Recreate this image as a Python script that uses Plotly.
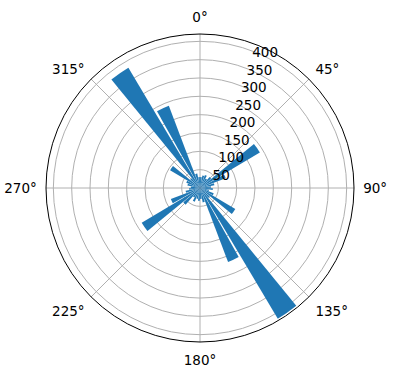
import plotly.graph_objects as go

# bin centres (degrees, clockwise from north) and bar heights
directions = [5, 15, 25, 35, 45, 55, 65, 75, 85, 95, 105, 115,
              125, 135, 145, 155, 165, 175, 185, 195, 205, 215, 225, 235,
              245, 255, 265, 275, 285, 295, 305, 315, 325, 335, 345, 355]
counts = [30, 35, 38, 30, 40, 190, 75, 40, 30, 35, 25, 40,
          112, 35, 415, 216, 40, 30, 35, 30, 40, 30, 60, 185,
          85, 40, 30, 25, 35, 40, 95, 35, 382, 240, 40, 30]

angle_ticks = [0, 45, 90, 135, 180, 225, 270, 315]
radial_ticks = [50, 100, 150, 200, 250, 300, 350, 400]

fig = go.Figure(go.Barpolar(
    r=counts,
    theta=directions,
    width=[8.5] * len(directions),
    marker=dict(color="#1f77b4", line=dict(width=0)),
))

fig.update_layout(
    width=396, height=380,
    margin=dict(l=46, r=42, t=34, b=38),
    paper_bgcolor="white",
    showlegend=False,
    font=dict(family="DejaVu Sans", size=13.5, color="black"),
    polar=dict(
        bgcolor="white",
        angularaxis=dict(
            rotation=90, direction="clockwise",
            tickmode="array", tickvals=angle_ticks,
            ticktext=[f"{a}°" for a in angle_ticks],
            showgrid=True, gridcolor="#b0b0b0", gridwidth=0.8,
            showline=True, linecolor="black", linewidth=1,
            ticks="outside", ticklen=6, tickcolor="rgba(0,0,0,0)",
        ),
        radialaxis=dict(
            range=[0, 420],
            tickmode="array", tickvals=radial_ticks,
            ticktext=[str(v) for v in radial_ticks],
            showgrid=True, gridcolor="#b0b0b0", gridwidth=0.8,
            showline=False, ticks="", angle=72, tickangle=72,
        ),
    ),
)

fig.write_html("out.html")
